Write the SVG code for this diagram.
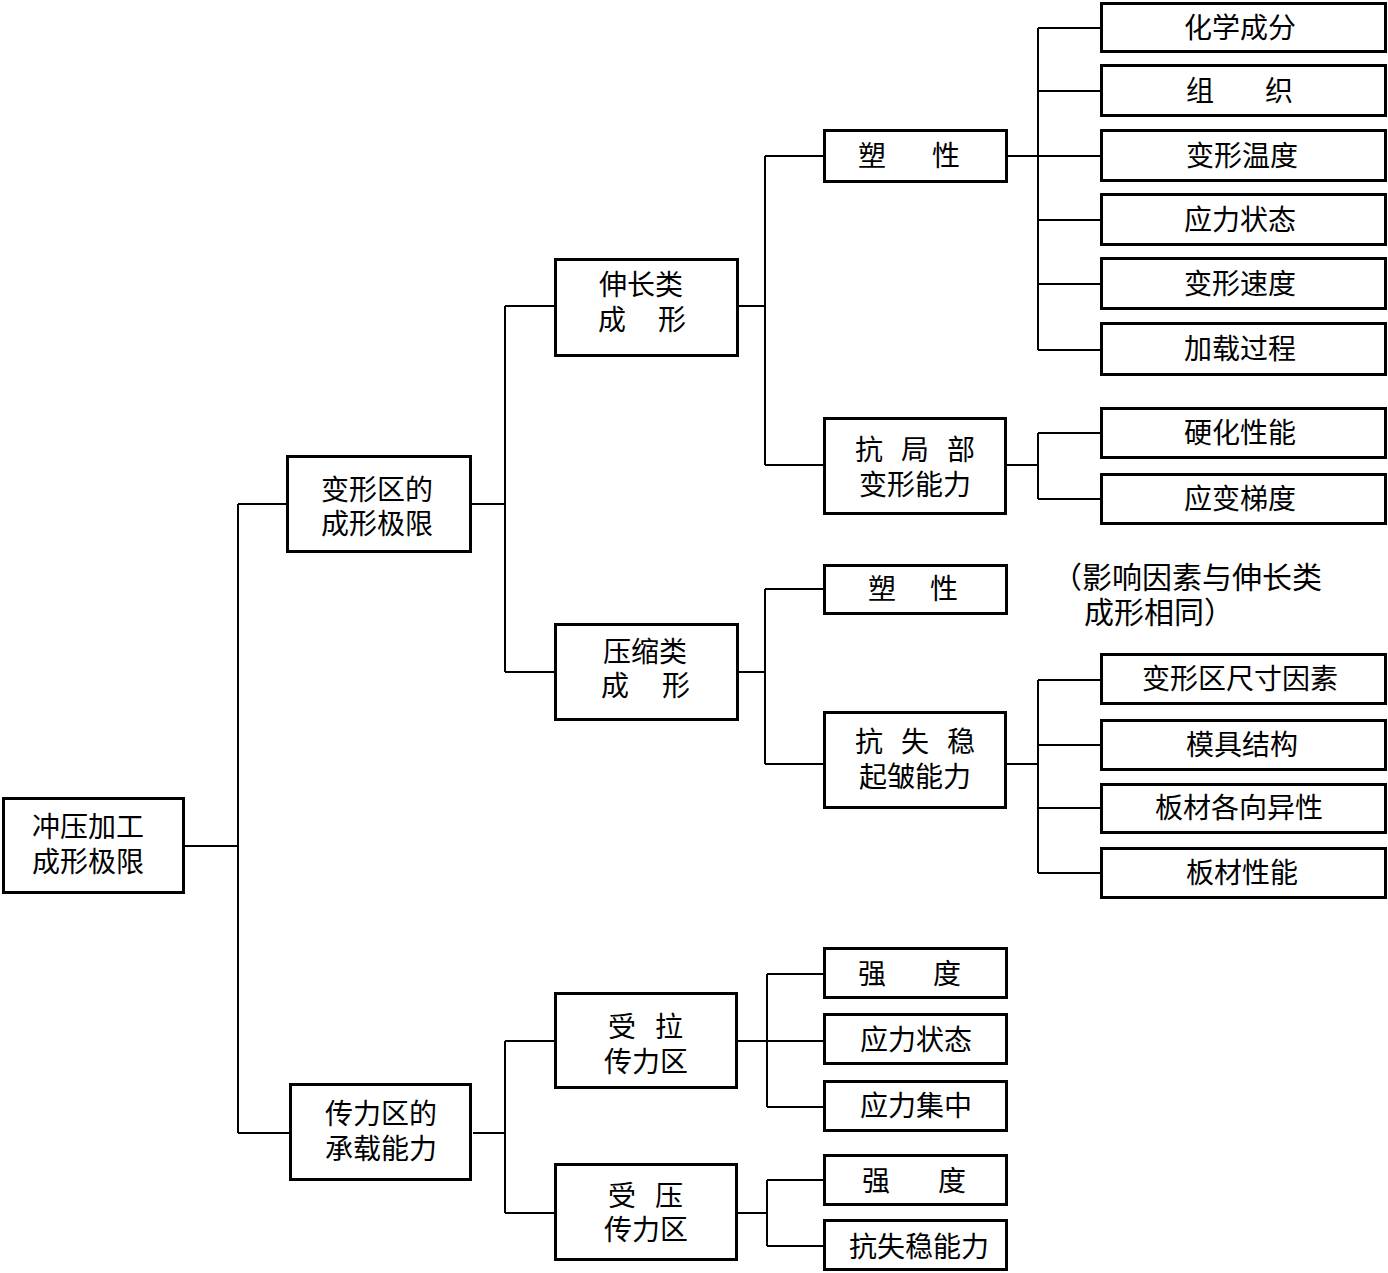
<svg xmlns="http://www.w3.org/2000/svg" width="1388" height="1273" viewBox="0 0 1388 1273">
<style>
.b{fill:#fff;stroke:#000;stroke-width:3}
.c{fill:none;stroke:#000;stroke-width:2}
text{font-family:"Liberation Sans","Noto Sans CJK SC","Noto Sans CJK JP",sans-serif;font-size:28px;fill:#000;dominant-baseline:central}
.m{text-anchor:middle}
.n{font-size:30px}
</style>
<rect width="1388" height="1273" fill="#fff"/>
<g id="connectors" class="c">
<path d="M185 846H238M238 504V1133M238 504H286M238 1133H289"/>
<path d="M472 504H505M505 306V672M505 306H554M505 672H554"/>
<path d="M739 306H765M765 156V465M765 156H823M765 465H823"/>
<path d="M1008 156H1100M1038 28V350M1038 28H1100M1038 91H1100M1038 220H1100M1038 284H1100M1038 350H1100"/>
<path d="M1007 465H1038M1038 433V499M1038 433H1100M1038 499H1100"/>
<path d="M739 672H765M765 589V764M765 589H823M765 764H823"/>
<path d="M1007 764H1038M1038 680V873M1038 680H1100M1038 745H1100M1038 808H1100M1038 873H1100"/>
<path d="M473 1133H505M505 1041V1213M505 1041H554M505 1213H554"/>
<path d="M738 1041H767M767 974V1107M767 974H823M767 1041H823M767 1107H823"/>
<path d="M738 1213H767M767 1180V1246M767 1180H823M767 1246H823"/>
</g>
<g id="root"><rect class="b" x="3.5" y="798.5" width="180" height="94"/><text class="m" x="88" y="827">冲压加工</text><text class="m" x="88" y="862">成形极限</text></g>
<g id="deform-zone"><rect class="b" x="287.5" y="456.5" width="183" height="95"/><text class="m" x="377" y="490">变形区的</text><text class="m" x="377" y="524">成形极限</text></g>
<g id="force-zone"><rect class="b" x="290.5" y="1084.5" width="180" height="95"/><text class="m" x="381" y="1114">传力区的</text><text class="m" x="381" y="1149">承载能力</text></g>
<g id="stretch"><rect class="b" x="555.5" y="259.5" width="182" height="96"/><text class="m" x="641" y="285">伸长类</text><text x="598" y="320">成<tspan x="658">形</tspan></text></g>
<g id="compress"><rect class="b" x="555.5" y="624.5" width="182" height="95"/><text class="m" x="645" y="652">压缩类</text><text x="601" y="686">成<tspan x="662">形</tspan></text></g>
<g id="tension-zone"><rect class="b" x="555.5" y="993.5" width="181" height="94"/><text x="608" y="1027">受<tspan x="655">拉</tspan></text><text class="m" x="646" y="1062">传力区</text></g>
<g id="compress-zone"><rect class="b" x="555.5" y="1164.5" width="181" height="95"/><text x="608" y="1196">受<tspan x="655">压</tspan></text><text class="m" x="646" y="1230">传力区</text></g>
<g id="plasticity1"><rect class="b" x="824.5" y="130.5" width="182" height="51"/><text x="858" y="156">塑<tspan x="932">性</tspan></text></g>
<g id="local-deform"><rect class="b" x="824.5" y="418.5" width="181" height="95"/><text x="855" y="450">抗<tspan x="901">局</tspan><tspan x="947">部</tspan></text><text class="m" x="915" y="485">变形能力</text></g>
<g id="plasticity2"><rect class="b" x="824.5" y="565.5" width="182" height="48"/><text x="868" y="589">塑<tspan x="930">性</tspan></text></g>
<g id="wrinkle"><rect class="b" x="824.5" y="712.5" width="181" height="95"/><text x="855" y="742">抗<tspan x="901">失</tspan><tspan x="947">稳</tspan></text><text class="m" x="915" y="777">起皱能力</text></g>
<g id="strength1"><rect class="b" x="824.5" y="948.5" width="182" height="49"/><text x="858" y="974">强<tspan x="933">度</tspan></text></g>
<g id="stress-state2"><rect class="b" x="824.5" y="1014.5" width="182" height="49"/><text class="m" x="916" y="1040">应力状态</text></g>
<g id="stress-conc"><rect class="b" x="824.5" y="1081.5" width="182" height="49"/><text class="m" x="916" y="1106">应力集中</text></g>
<g id="strength2"><rect class="b" x="824.5" y="1155.5" width="182" height="49"/><text x="862" y="1181">强<tspan x="938">度</tspan></text></g>
<g id="buckling"><rect class="b" x="824.5" y="1220.5" width="182" height="49"/><text class="m" x="919" y="1247">抗失稳能力</text></g>
<g id="chem"><rect class="b" x="1101.5" y="3.5" width="284" height="48"/><text class="m" x="1240" y="28">化学成分</text></g>
<g id="structure"><rect class="b" x="1101.5" y="65.5" width="284" height="50"/><text x="1186" y="91">组<tspan x="1265">织</tspan></text></g>
<g id="temp"><rect class="b" x="1101.5" y="130.5" width="284" height="50"/><text class="m" x="1242" y="156">变形温度</text></g>
<g id="stress-state"><rect class="b" x="1101.5" y="194.5" width="284" height="50"/><text class="m" x="1240" y="220">应力状态</text></g>
<g id="speed"><rect class="b" x="1101.5" y="258.5" width="284" height="50"/><text class="m" x="1240" y="284">变形速度</text></g>
<g id="loading"><rect class="b" x="1101.5" y="323.5" width="284" height="51"/><text class="m" x="1240" y="349">加载过程</text></g>
<g id="hardening"><rect class="b" x="1101.5" y="408.5" width="284" height="49"/><text class="m" x="1240" y="433">硬化性能</text></g>
<g id="strain-grad"><rect class="b" x="1101.5" y="474.5" width="284" height="49"/><text class="m" x="1240" y="499">应变梯度</text></g>
<g id="size"><rect class="b" x="1101.5" y="654.5" width="284" height="49"/><text class="m" x="1240" y="679">变形区尺寸因素</text></g>
<g id="die"><rect class="b" x="1101.5" y="720.5" width="284" height="49"/><text class="m" x="1242" y="745">模具结构</text></g>
<g id="anisotropy"><rect class="b" x="1101.5" y="784.5" width="284" height="48"/><text class="m" x="1239" y="808">板材各向异性</text></g>
<g id="sheet"><rect class="b" x="1101.5" y="848.5" width="284" height="49"/><text class="m" x="1242" y="873">板材性能</text></g>
<g id="note"><text class="n" x="1052" y="577">（影响因素与伸长类</text><text class="n" x="1084" y="612">成形相同）</text></g>
</svg>
